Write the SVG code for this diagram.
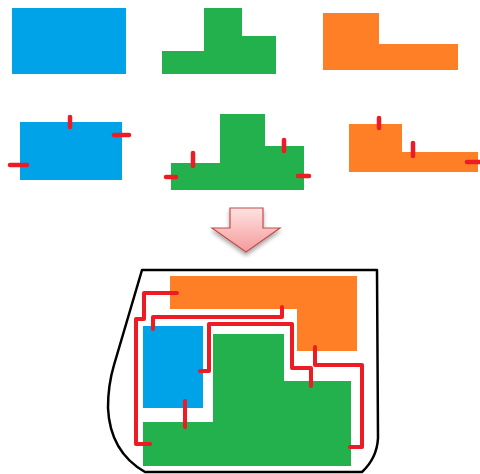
<svg xmlns="http://www.w3.org/2000/svg" width="480" height="474" viewBox="0 0 480 474">
  <defs>
    <linearGradient id="arrowGrad" x1="0" y1="0" x2="0" y2="1">
      <stop offset="0" stop-color="#ffe2e2"/>
      <stop offset="1" stop-color="#f49a9a"/>
    </linearGradient>
    <filter id="shadow" x="-20%" y="-20%" width="140%" height="150%">
      <feGaussianBlur in="SourceAlpha" stdDeviation="2"/>
      <feOffset dx="0" dy="3" result="b"/>
      <feComponentTransfer><feFuncA type="linear" slope="0.35"/></feComponentTransfer>
      <feMerge><feMergeNode/><feMergeNode in="SourceGraphic"/></feMerge>
    </filter>
  </defs>
  <style>
    .blue{fill:#00a2e8}
    .green{fill:#22b14c}
    .orange{fill:#ff7f27}
    .red{fill:none;stroke:#ed1c24;stroke-width:4;stroke-linecap:round;stroke-linejoin:round}
    .tick{fill:none;stroke:#ed1c24;stroke-width:4.5;stroke-linecap:round}
    .outline{fill:none;stroke:#000;stroke-width:2.5;stroke-linejoin:round}
  </style>
  <rect width="480" height="474" fill="#fff"/>

  <!-- Row 1 -->
  <g id="blue1"><rect class="blue" x="12" y="8" width="114" height="66"/></g>
  <g id="green1"><polygon class="green" points="162,51 204,51 204,8 242,8 242,36 276,36 276,74 162,74"/></g>
  <g id="orange1"><polygon class="orange" points="323,13 379,13 379,44 458,44 458,70 323,70"/></g>

  <!-- Row 2 -->
  <g id="blue2">
    <rect class="blue" x="20" y="122" width="102" height="58"/>
    <line class="tick" x1="70" y1="117" x2="70" y2="127"/>
    <line class="tick" x1="114" y1="135" x2="129" y2="135"/>
    <line class="tick" x1="10" y1="165" x2="27" y2="165"/>
  </g>
  <g id="green2">
    <polygon class="green" points="171,163 220,163 220,114 265,114 265,146 304,146 304,190 171,190"/>
    <line class="tick" x1="193" y1="153" x2="193" y2="166"/>
    <line class="tick" x1="284" y1="140" x2="284" y2="151"/>
    <line class="tick" x1="166" y1="177" x2="176" y2="177"/>
    <line class="tick" x1="298" y1="176" x2="309" y2="176"/>
  </g>
  <g id="orange2">
    <polygon class="orange" points="349,124 402,124 402,152 478,152 478,172 349,172"/>
    <line class="tick" x1="379" y1="118" x2="379" y2="128"/>
    <line class="tick" x1="413" y1="143" x2="413" y2="156"/>
    <line class="tick" x1="467" y1="162" x2="480" y2="162"/>
  </g>

  <!-- Arrow -->
  <g id="arrow">
    <polygon points="230,208 263,208 263,228 280,228 246,252 212,228 230,228" fill="url(#arrowGrad)" stroke="#c0504d" stroke-width="1.2" filter="url(#shadow)"/>
  </g>

  <!-- Bottom layout -->
  <g id="boundary">
    <path class="outline" d="M142,270 L377,270 L378,438 Q377,458 362,472 L145,472 Q110,452 108,408 Q108,385 114,365 Z"/>
  </g>
  <g id="orange3"><polygon class="orange" points="170,276 357,276 357,351 297,351 297,309 170,309"/></g>
  <g id="blue3"><rect class="blue" x="143" y="326" width="60" height="82"/></g>
  <g id="green3"><polygon class="green" points="213,334 284,334 284,381 351,381 351,466 143,466 143,422 213,422"/></g>

  <g id="connectors">
    <polyline class="red" points="177,293 144,293 144,319 136,319 136,444 150,444"/>
    <polyline class="red" points="153,329 153,317 282,317 282,307"/>
    <polyline class="red" points="200,371 209,371 209,324 292,324 292,368 311,368 311,386"/>
    <polyline class="red" points="315,347 315,365 362,365 362,447 350,447"/>
    <line class="red" x1="185" y1="401" x2="185" y2="427"/>
  </g>
</svg>
